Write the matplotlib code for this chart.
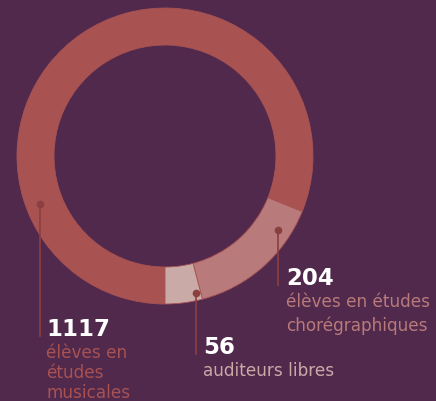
import matplotlib.pyplot as plt

OUTPUT_PATH = "out.png"

# Student counts, in the order the ring is drawn (clockwise from 6 o'clock).
counts = [1117, 204, 56]
numbers = ["1117", "204", "56"]
captions = [
    ["élèves en", "études", "musicales"],
    ["élèves en études", "chorégraphiques"],
    ["auditeurs libres"],
]

BG = "#51294d"
COLORS = ["#a85252", "#b87a7a", "#c9aaa7"]
TEXT_COLORS = ["#a85252", "#b87a7a", "#c9aaa7"]
LINE_COLOR = "#8c3f3f"

W, H = 436, 401
CENTER = (165, H - 156)
RADIUS = 148
RING = 37

# Leader lines: (x, y of dot, y of bottom) in pixels from top.
leaders = [(40, 204, 336), (278, 230, 285), (196, 293, 354)]
# Label anchors: (x, baseline of number) in pixels from top.
labels = [(46, 336), (286, 285), (203, 354)]
# Distance between caption baselines, pixels.
pitches = [20, 24, 22]


def build_figure() -> plt.Figure:
    fig = plt.figure(figsize=(W / 100, H / 100), dpi=100, facecolor=BG)
    ax = fig.add_axes((0, 0, 1, 1))
    ax.set_facecolor(BG)

    ax.pie(
        counts, colors=COLORS, startangle=270, counterclock=False,
        center=CENTER, radius=RADIUS, frame=True,
        wedgeprops=dict(width=RING, linewidth=0.6, edgecolor=COLORS[0]),
    )
    ax.set_xlim(0, W)
    ax.set_ylim(0, H)
    ax.set_aspect("equal")
    ax.axis("off")

    for (x, y0, y1), (lx, ly), num, cap, tc, pitch in zip(
        leaders, labels, numbers, captions, TEXT_COLORS, pitches
    ):
        ax.plot([x, x], [H - y0, H - y1], color=LINE_COLOR, linewidth=1.2)
        ax.plot(x, H - y0, "o", color=LINE_COLOR, markersize=4.5)
        ax.text(lx, H - ly, num, color="white", fontsize=16.5, fontweight="bold",
                family="DejaVu Sans", ha="left", va="baseline")
        for i, line in enumerate(cap):
            ax.text(lx, H - (ly + 22 + i * pitch), line, color=tc, fontsize=12.2,
                    family="DejaVu Sans", ha="left", va="baseline")

    return fig


def main() -> None:
    fig = build_figure()
    fig.savefig(OUTPUT_PATH, dpi=100, facecolor=BG)
    plt.close(fig)


if __name__ == "__main__":
    main()
